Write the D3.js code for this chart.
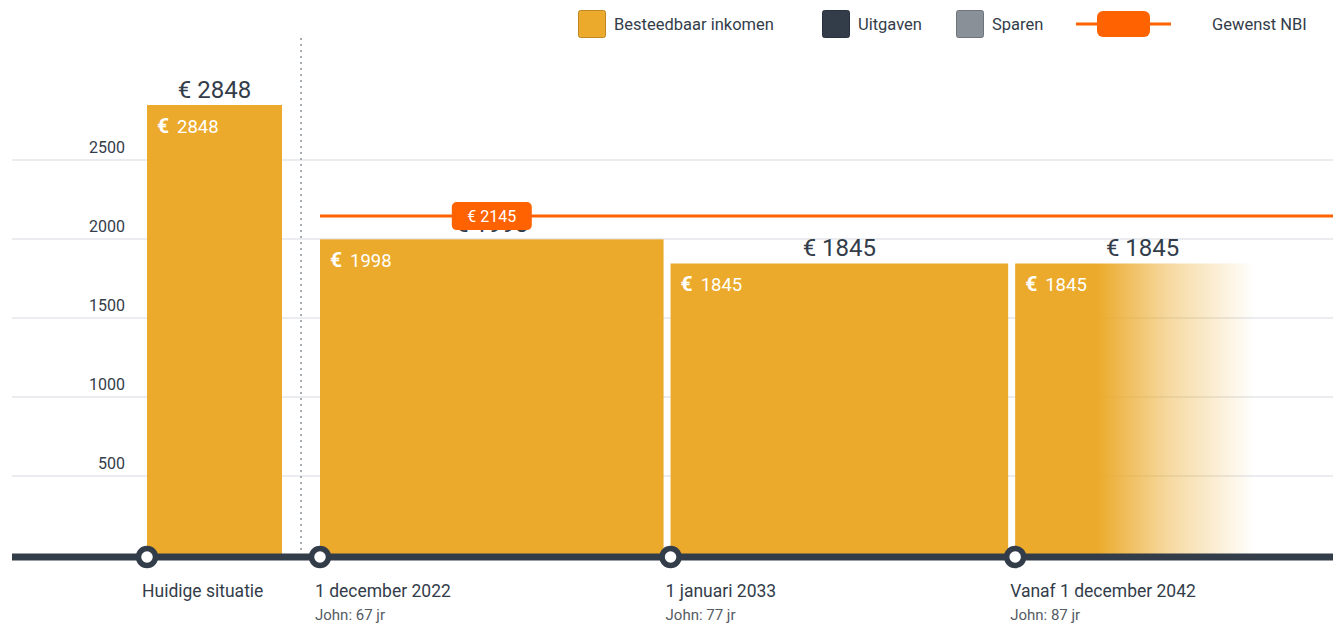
<!DOCTYPE html>
<html>
<head>
<meta charset="utf-8">
<script src="https://cdn.jsdelivr.net/npm/d3@7"></script>
<style>
  body { margin: 0; background: #fff; font-family: Roboto, "Noto Sans", sans-serif; }
  svg text { font-family: Roboto, "Noto Sans", sans-serif; }
</style>
</head>
<body>
<div id="chart"></div>
<script>
// data
var periodLabels = ["1 december 2022", "1 januari 2033", "Vanaf 1 december 2042"];
var periodSub = ["John: 67 jr", "John: 77 jr", "John: 87 jr"];
var periodStart = [new Date(2022, 11, 1), new Date(2033, 0, 1), new Date(2042, 11, 1)];
var periodEnd = new Date(2050, 3, 1);
var periodValues = [1998, 1845, 1845];
var currentLabel = "Huidige situatie";
var currentValue = 2848;
var targetNBI = 2145;
var yTicks = [500, 1000, 1500, 2000, 2500];
var legendItems = ["Besteedbaar inkomen", "Uitgaven", "Sparen", "Gewenst NBI"];

var W = 1333, H = 626;
var gold = "#ebaa2b", dark = "#333d4a", orange = "#ff6200";

var svg = d3.select("#chart").append("svg")
    .attr("width", W).attr("height", H);

var y = d3.scaleLinear().domain([0, 3000]).range([555, 81]);
var x = d3.scaleTime().domain([periodStart[0], periodEnd]).range([320, 1270]);
var xCur = d3.scaleBand().domain([currentLabel]).range([147, 282]).padding(0);

var defs = svg.append("defs");
var grad = defs.append("linearGradient").attr("id", "fade")
    .attr("x1", "0%").attr("x2", "100%").attr("y1", "0%").attr("y2", "0%");
grad.append("stop").attr("offset", "32%").attr("stop-color", gold).attr("stop-opacity", 1);
grad.append("stop").attr("offset", "60%").attr("stop-color", gold).attr("stop-opacity", 0.45);
grad.append("stop").attr("offset", "94%").attr("stop-color", gold).attr("stop-opacity", 0);

// gridlines
var grid = svg.append("g");
grid.selectAll("line").data(yTicks).enter().append("line")
    .attr("x1", 12).attr("x2", W)
    .attr("y1", function(d) { return y(d); })
    .attr("y2", function(d) { return y(d); })
    .attr("stroke", "#e3e6ea").attr("stroke-width", 1.5);
grid.selectAll("text").data(yTicks).enter().append("text")
    .attr("x", 125).attr("y", function(d) { return y(d) - 7; })
    .attr("text-anchor", "end")
    .attr("font-size", 16).attr("fill", "#333d4a")
    .text(function(d) { return d; });

// dotted separator
svg.append("line")
    .attr("x1", 301).attr("x2", 301).attr("y1", 38).attr("y2", y(0))
    .attr("stroke", "#a8adb3").attr("stroke-width", 2)
    .attr("stroke-dasharray", "2,4");

// bars
var bars = [{label: currentLabel, value: currentValue, x0: xCur(currentLabel), x1: xCur(currentLabel) + xCur.bandwidth(), fade: false}];
periodValues.forEach(function(v, i) {
  var end = i < periodValues.length - 1 ? x(periodStart[i + 1]) - 7 : x(periodEnd);
  bars.push({label: periodLabels[i], sub: periodSub[i], value: v, x0: x(periodStart[i]), x1: end, fade: i === periodValues.length - 1});
});

svg.selectAll(".bar").data(bars).enter().append("rect")
    .attr("class", "bar")
    .attr("x", function(d) { return d.x0; })
    .attr("y", function(d) { return y(d.value); })
    .attr("width", function(d) { return d.x1 - d.x0; })
    .attr("height", function(d) { return y(0) - y(d.value); })
    .attr("fill", function(d) { return d.fade ? "url(#fade)" : gold; });

// value above bar
svg.selectAll(".top").data(bars).enter().append("text")
    .attr("x", function(d) { return (d.x0 + d.x1) / 2; })
    .attr("y", function(d) { return y(d.value) - 7; })
    .attr("text-anchor", "middle")
    .attr("font-size", 24).attr("fill", dark)
    .text(function(d) { return "€ " + d.value; });

// value inside bar
var inner = svg.selectAll(".inner").data(bars).enter().append("text")
    .attr("x", function(d) { return d.x0 + 10; })
    .attr("y", function(d) { return y(d.value) + 28; })
    .attr("font-size", 18.5).attr("fill", "#fff");
inner.append("tspan").attr("font-weight", "bold").attr("font-size", 21).text("€");
inner.append("tspan").attr("dx", 8).text(function(d) { return d.value; });

// NBI line
svg.append("line")
    .attr("x1", x(periodStart[0])).attr("x2", W)
    .attr("y1", y(targetNBI)).attr("y2", y(targetNBI))
    .attr("stroke", orange).attr("stroke-width", 3);
var bx = (bars[1].x0 + bars[1].x1) / 2;
svg.append("rect")
    .attr("x", bx - 40).attr("y", y(targetNBI) - 14)
    .attr("width", 80).attr("height", 28).attr("rx", 5)
    .attr("fill", orange);
svg.append("text")
    .attr("x", bx).attr("y", y(targetNBI) + 5.5)
    .attr("text-anchor", "middle").attr("font-size", 16).attr("fill", "#fff")
    .text("€ " + targetNBI);

// time axis
svg.append("line")
    .attr("x1", 12).attr("x2", W).attr("y1", y(0) + 2).attr("y2", y(0) + 2)
    .attr("stroke", dark).attr("stroke-width", 7);

svg.selectAll(".node").data(bars).enter().append("circle")
    .attr("cx", function(d) { return d.x0; })
    .attr("cy", y(0) + 2)
    .attr("r", 8.5)
    .attr("fill", "#fff").attr("stroke", dark).attr("stroke-width", 5.5);

svg.selectAll(".xl").data(bars).enter().append("text")
    .attr("x", function(d) { return d.x0 - 5; })
    .attr("y", 597)
    .attr("font-size", 17.5).attr("fill", dark)
    .text(function(d) { return d.label; });
svg.selectAll(".xs").data(bars.filter(function(d) { return d.sub; })).enter().append("text")
    .attr("x", function(d) { return d.x0 - 5; })
    .attr("y", 620)
    .attr("font-size", 15).attr("fill", "#555b63")
    .text(function(d) { return d.sub; });

// legend
var lg = svg.append("g");
var sw = [{c: gold, x: 578}, {c: dark, x: 822}, {c: "#8a9098", x: 956}];
sw.forEach(function(s, i) {
  lg.append("rect").attr("x", s.x + 0.5).attr("y", 10.5).attr("width", 27).attr("height", 27)
    .attr("rx", 2).attr("fill", s.c).attr("stroke", d3.color(s.c).darker(0.6)).attr("stroke-width", 1);
  lg.append("text").attr("x", s.x + 36).attr("y", 30)
    .attr("font-size", 16.5).attr("fill", dark).text(legendItems[i]);
});
lg.append("line").attr("x1", 1076).attr("x2", 1171).attr("y1", 24).attr("y2", 24)
  .attr("stroke", orange).attr("stroke-width", 3);
lg.append("rect").attr("x", 1097).attr("y", 11).attr("width", 53).attr("height", 26)
  .attr("rx", 6).attr("fill", orange);
lg.append("text").attr("x", 1212).attr("y", 30)
  .attr("font-size", 16.5).attr("fill", dark).text(legendItems[3]);
</script>
</body>
</html>
